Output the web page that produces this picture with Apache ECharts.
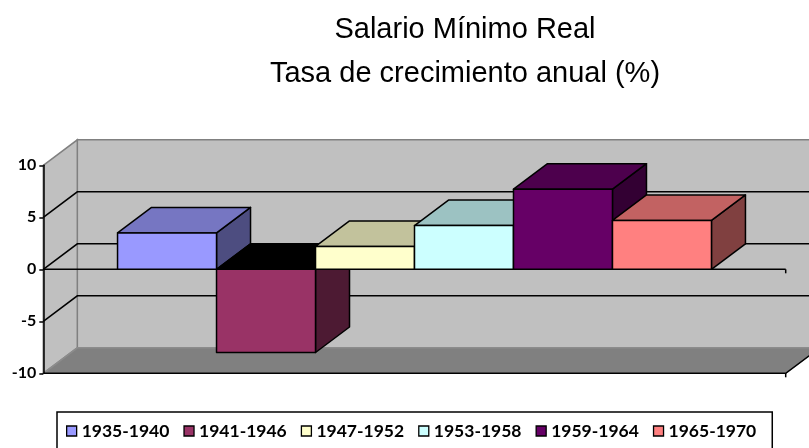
<!DOCTYPE html>
<html><head><meta charset="utf-8">
<script src="https://cdn.jsdelivr.net/npm/echarts@6/dist/echarts.min.js"></script>
<style>html,body{margin:0;padding:0;background:#fff}#c{width:809px;height:448px}</style>
</head><body><div id="c"></div>
<script>
const periods = ['1935-1940','1941-1946','1947-1952','1953-1958','1959-1964','1965-1970'];
const growth = [3.5, -8.0, 2.2, 4.2, 7.7, 4.7];
const frontColors = ['#9999FF','#993366','#FFFFCC','#CCFFFF','#660066','#FF8080'];
const topColors = ['#7676C2','#000000','#C2C29C','#9CC2C2','#4D004D','#C26262'];
const sideColors = ['#4D4D80','#4D1A33','#80805F','#668080','#330033','#804040'];
const yMin = -10, yMax = 10, yStep = 5;
const titleLines = ['Salario Mínimo Real', 'Tasa de crecimiento anual (%)'];

const DX = 34, DY = 25.5;   // depth projection (px)
const GAP = 0.2;            // category gap fraction
const LW = 1.5;

function renderWalls(params, api) {
  const band = api.size([1, 0])[0];
  const c0 = api.coord([0, 0]);
  const xl = c0[0] - band / 2, xr = c0[0] + band / 2;
  const yTop = api.coord([0, yMax])[1], yBot = api.coord([0, yMin])[1], y0 = c0[1];
  const ch = [];
  ch.push({type: 'rect', shape: {x: xl + DX, y: yTop - DY, width: xr - xl, height: yBot - yTop},
    style: {fill: '#C0C0C0', stroke: '#808080', lineWidth: LW}});
  ch.push({type: 'polygon', shape: {points: [[xl, yTop], [xl + DX, yTop - DY], [xl + DX, yBot - DY], [xl, yBot]]},
    style: {fill: '#C0C0C0', stroke: '#808080', lineWidth: LW}});
  ch.push({type: 'polygon', shape: {points: [[xl, yBot], [xr, yBot], [xr + DX, yBot - DY], [xl + DX, yBot - DY]]},
    style: {fill: '#808080', stroke: '#8C8C8C', lineWidth: LW}});
  ch.push({type: 'polyline', shape: {points: [[xl, yBot], [xr, yBot], [xr + DX, yBot - DY]]},
    style: {stroke: '#000', lineWidth: LW, fill: null}});
  for (let v = yMin + yStep; v < yMax; v += yStep) {
    const y = api.coord([0, v])[1];
    ch.push({type: 'polyline', shape: {points: [[xl, y], [xl + DX, y - DY], [xr + DX, y - DY]]},
      style: {stroke: '#000', lineWidth: LW, fill: null}});
  }
  ch.push({type: 'line', shape: {x1: xl, y1: y0, x2: xr, y2: y0}, style: {stroke: '#000', lineWidth: LW}});
  ch.push({type: 'line', shape: {x1: xr, y1: y0, x2: xr, y2: y0 + 4}, style: {stroke: '#000', lineWidth: LW}});
  ch.push({type: 'line', shape: {x1: xr, y1: yBot, x2: xr, y2: yBot + 4}, style: {stroke: '#000', lineWidth: LW}});
  return {type: 'group', children: ch};
}

function makeBar(i) {
  return function (params, api) {
    const band = api.size([1, 0])[0];
    const c0 = api.coord([0, 0]);
    const w = band * (1 - GAP) / periods.length;
    const x1 = c0[0] - band * (1 - GAP) / 2 + i * w, x2 = x1 + w;
    const yv = api.coord([0, api.value(1)])[1];
    const y0 = c0[1];
    const yt = Math.min(yv, y0), yb = Math.max(yv, y0);
    const st = {stroke: '#000', lineWidth: LW, lineJoin: 'round'};
    return {type: 'group', children: [
      {type: 'polygon', shape: {points: [[x2, yt], [x2 + DX, yt - DY], [x2 + DX, yb - DY], [x2, yb]]},
        style: Object.assign({}, st, {fill: sideColors[i]})},
      {type: 'polygon', shape: {points: [[x1, yt], [x2, yt], [x2 + DX, yt - DY], [x1 + DX, yt - DY]]},
        style: Object.assign({}, st, {fill: topColors[i]})},
      {type: 'rect', shape: {x: x1, y: yt, width: w, height: yb - yt},
        style: Object.assign({}, st, {fill: frontColors[i]})}
    ]};
  };
}

const series = [{
  type: 'custom', name: 'walls', silent: true, clip: false, z: 1,
  data: [[0, 0]], renderItem: renderWalls
}];
periods.forEach(function (p, i) {
  series.push({
    type: 'custom', name: p, clip: false, z: 2 + i,
    itemStyle: {color: frontColors[i], borderColor: '#000', borderWidth: 1.3},
    data: [[0, growth[i]]], renderItem: makeBar(i)
  });
});

const chart = echarts.init(document.getElementById('c'), null, {renderer: 'canvas'});
chart.setOption({
  animation: false,
  backgroundColor: '#fff',
  color: frontColors,
  graphic: [
    {type: 'text', x: 465, y: 30, style: {text: titleLines[0], textAlign: 'center', textVerticalAlign: 'middle',
      font: '29px "Liberation Sans", Arial, sans-serif', fill: '#000'}},
    {type: 'text', x: 465, y: 74, style: {text: titleLines[1], textAlign: 'center', textVerticalAlign: 'middle',
      font: '29px "Liberation Sans", Arial, sans-serif', fill: '#000'}}
  ],
  grid: {left: 43.3, right: 23.3, top: 165.3, bottom: 74.7},
  xAxis: {type: 'category', data: [''], axisLine: {show: false}, axisTick: {show: false}, axisLabel: {show: false}},
  yAxis: {type: 'value', min: yMin, max: yMax, interval: yStep, z: 20,
    axisLine: {show: true, lineStyle: {color: '#000', width: LW}},
    axisTick: {show: true, length: 4, lineStyle: {color: '#000', width: LW}},
    axisLabel: {color: '#000', fontFamily: 'Lato', fontWeight: 'bold', fontSize: 16, margin: 7},
    splitLine: {show: false}},
  legend: {
    data: periods, left: 57, top: 412, orient: 'horizontal',
    itemWidth: 10, itemHeight: 10, itemGap: 14,
    padding: [10, 16, 10, 9],
    borderColor: '#000', borderWidth: 1.5, backgroundColor: '#fff',
    icon: 'rect',
    itemStyle: {borderColor: '#000', borderWidth: 1.3},
    textStyle: {fontFamily: 'Lato', fontWeight: 'bold', fontSize: 17.5, color: '#000'}
  },
  series: series
});
</script></body></html>
